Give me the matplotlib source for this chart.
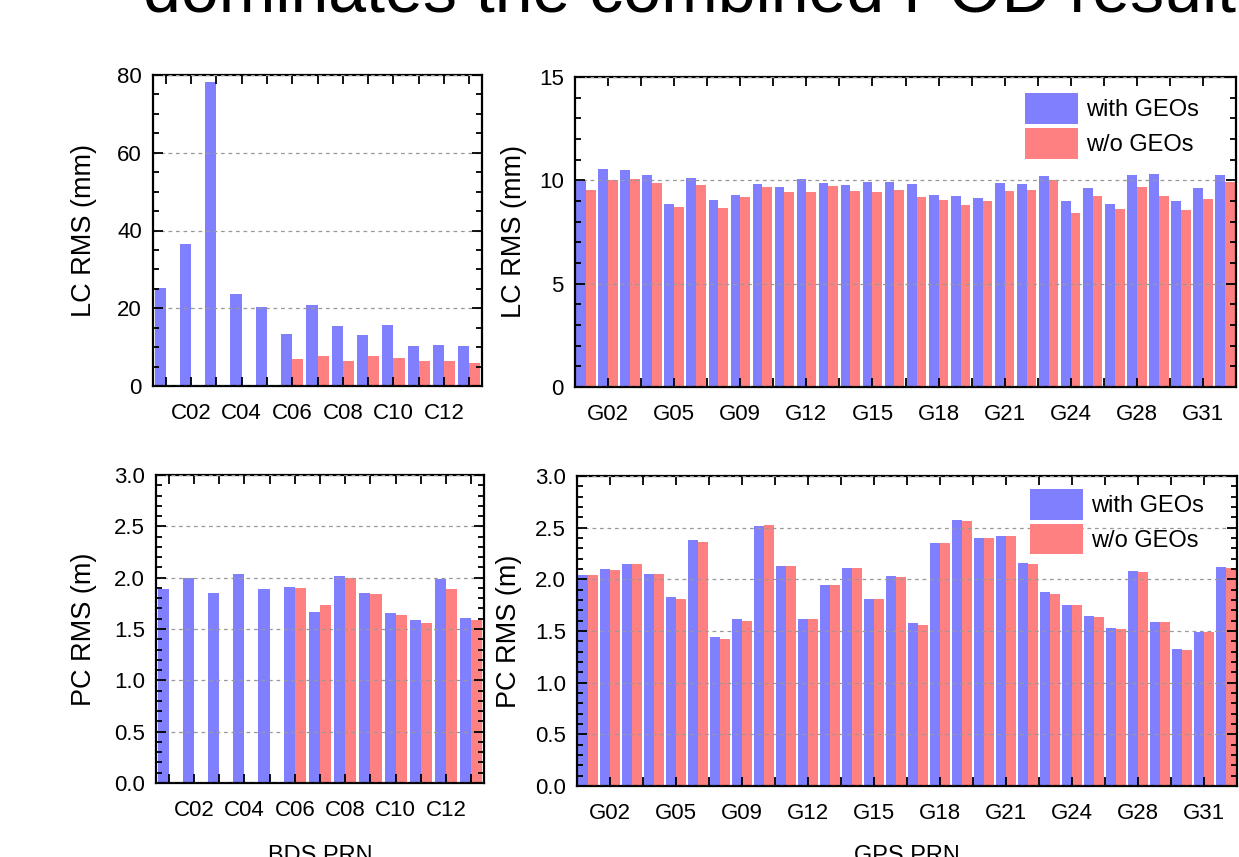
import numpy as np
import matplotlib
matplotlib.use("Agg")
import matplotlib.pyplot as plt
from matplotlib.ticker import FixedLocator, MultipleLocator, NullFormatter

plt.rcParams['font.family'] = ['Liberation Sans', 'DejaVu Sans']

nan = np.nan

# BDS satellites
bds_prn = ['C01', 'C02', 'C03', 'C04', 'C05', 'C06', 'C07', 'C08', 'C09', 'C10', 'C11', 'C12', 'C13']
bds_lc_with = [25.2, 36.4, 78.1, 23.7, 20.3, 13.4, 20.9, 15.4, 13.1, 15.7, 10.3, 10.6, 10.3]
bds_lc_wo = [nan, nan, nan, nan, nan, 6.9, 7.7, 6.4, 7.6, 7.2, 6.5, 6.5, 5.9]
bds_pc_with = [1.89, 2.00, 1.85, 2.04, 1.89, 1.91, 1.67, 2.02, 1.85, 1.66, 1.59, 1.99, 1.61]
bds_pc_wo = [nan, nan, nan, nan, nan, 1.90, 1.73, 2.00, 1.84, 1.64, 1.56, 1.89, 1.59]

# GPS satellites
gps_prn = ['G01', 'G02', 'G03', 'G04', 'G05', 'G06', 'G07', 'G09', 'G10', 'G11',
           'G12', 'G13', 'G14', 'G15', 'G16', 'G17', 'G18', 'G19', 'G20', 'G21',
           'G22', 'G23', 'G24', 'G25', 'G27', 'G28', 'G29', 'G30', 'G31', 'G32']
gps_lc_with = [9.95, 10.56, 10.48, 10.24, 8.87, 10.13, 9.03, 9.31, 9.81, 9.66,
               10.05, 9.85, 9.76, 9.90, 9.92, 9.84, 9.27, 9.24, 9.13, 9.89,
               9.81, 10.23, 9.02, 9.61, 8.84, 10.24, 10.32, 8.98, 9.61, 10.24]
gps_lc_wo = [9.52, 10.0, 10.05, 9.89, 8.69, 9.77, 8.65, 9.21, 9.66, 9.44,
             9.44, 9.71, 9.48, 9.42, 9.55, 9.18, 9.06, 8.79, 8.98, 9.50,
             9.52, 10.0, 8.42, 9.24, 8.61, 9.69, 9.23, 8.58, 9.11, 9.94]
gps_pc_with = [2.04, 2.10, 2.15, 2.05, 1.83, 2.38, 1.44, 1.62, 2.52, 2.13,
               1.62, 1.95, 2.11, 1.81, 2.03, 1.58, 2.35, 2.57, 2.40, 2.42,
               2.16, 1.88, 1.75, 1.65, 1.53, 2.08, 1.59, 1.33, 1.49, 2.12]
gps_pc_wo = [2.04, 2.09, 2.15, 2.05, 1.81, 2.36, 1.42, 1.60, 2.53, 2.13,
             1.62, 1.95, 2.11, 1.81, 2.02, 1.56, 2.35, 2.56, 2.40, 2.42,
             2.15, 1.86, 1.75, 1.64, 1.52, 2.07, 1.59, 1.32, 1.49, 2.11]

blue = '#8080FF'
red = '#FF8080'
w = 0.44

fig = plt.figure(figsize=(12.39, 8.57), dpi=100)

# title of the page, mostly cut off at the top edge
fig.text(143 / 1239, 1 - 12 / 857, 'dominates the combined POD result',
         fontsize=49, ha='left', va='baseline')


def panel(rect, prn, v_with, v_wo, step, ymax, ymaj, ymin, ylabel, ylab_x,
          yfmt, legend=None):
    ax = fig.add_axes(rect)
    x = np.arange(1, len(prn) + 1)
    ax.bar(x - w / 2, v_with, w, color=blue, label='with GEOs')
    ax.bar(x + w / 2, v_wo, w, color=red, label='w/o GEOs')
    ax.set_xlim(0.5, len(prn) + 0.5)
    ax.set_ylim(0, ymax)

    major = x[1::step]
    ax.xaxis.set_major_locator(FixedLocator(major))
    ax.set_xticklabels([prn[i - 1] for i in major])
    minor = major[:-1] + step / 2
    if step == 2:
        minor = x[0::2]
    ax.xaxis.set_minor_locator(FixedLocator(minor))
    ax.xaxis.set_minor_formatter(NullFormatter())

    ax.yaxis.set_major_locator(MultipleLocator(ymaj))
    ax.yaxis.set_minor_locator(MultipleLocator(ymin))
    ax.yaxis.set_major_formatter(yfmt)

    ax.tick_params(axis='x', which='both', direction='in', top=True, bottom=True,
                   length=6.5, width=1.3, labelsize=16, pad=12)
    ax.tick_params(axis='y', which='major', direction='in', left=True, right=True,
                   length=7.5, width=1.3, labelsize=16, pad=8)
    ax.tick_params(axis='y', which='minor', direction='in', left=True, right=True,
                   length=4.3, width=1.3)
    for s in ax.spines.values():
        s.set_linewidth(1.6)

    ax.set_axisbelow(False)
    ax.yaxis.grid(True, which='major', linestyle=(0, (3, 3)), color='#999999',
                  linewidth=0.9)

    ax.set_ylabel(ylabel, fontsize=19.5)
    ax.yaxis.set_label_coords(ylab_x, 0.5)

    if legend is not None:
        ax.legend(loc='upper left', bbox_to_anchor=legend, frameon=False,
                  fontsize=17, handlelength=2.25, handleheight=1.64,
                  labelspacing=0.15, handletextpad=0.35, borderpad=0,
                  borderaxespad=0)
    return ax


panel([153 / 1239, 1 - 386 / 857, 329 / 1239, 311 / 857], bds_prn,
      bds_lc_with, bds_lc_wo, 2, 80, 20, 5, 'LC RMS (mm)', -0.17, '{x:.0f}')
panel([575 / 1239, 1 - 387 / 857, 661 / 1239, 310 / 857], gps_prn,
      gps_lc_with, gps_lc_wo, 3, 15, 5, 1, 'LC RMS (mm)', -0.073, '{x:.0f}',
      legend=(0.681, 0.948))
ax3 = panel([156 / 1239, 1 - 783 / 857, 328 / 1239, 308 / 857], bds_prn,
            bds_pc_with, bds_pc_wo, 2, 3.0, 0.5, 0.1, 'PC RMS (m)', -0.18, '{x:.1f}')
ax4 = panel([577 / 1239, 1 - 786 / 857, 660 / 1239, 310 / 857], gps_prn,
            gps_pc_with, gps_pc_wo, 3, 3.0, 0.5, 0.1, 'PC RMS (m)', -0.083, '{x:.1f}',
            legend=(0.686, 0.958))

# axis titles sit at the bottom edge and are cut off, as in the source image
ax3.set_xlabel('BDS PRN', fontsize=17)
ax3.xaxis.set_label_coords(0.5, -0.2)
ax4.set_xlabel('GPS PRN', fontsize=17)
ax4.xaxis.set_label_coords(0.5, -0.19)

fig.savefig('out.png', dpi=100)
